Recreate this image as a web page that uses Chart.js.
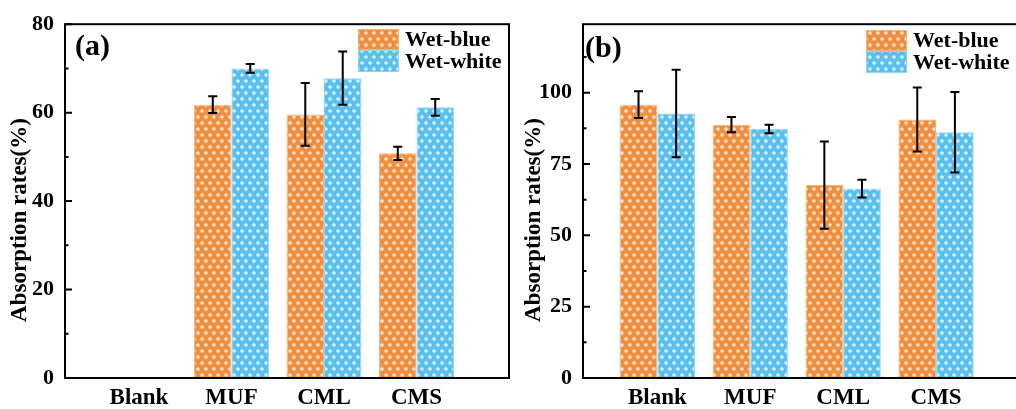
<!DOCTYPE html>
<html><head><meta charset="utf-8">
<script src="https://cdn.jsdelivr.net/npm/chart.js@4.4.1/dist/chart.umd.min.js"></script>
<style>
html,body{margin:0;padding:0;background:#fff;overflow:hidden;width:1016px;height:409px;}
canvas{position:absolute;top:0;}
#ca{left:0;} #cb{left:520px;}
</style></head><body>
<canvas id="ca" width="520" height="409"></canvas>
<canvas id="cb" width="515" height="409"></canvas>
<script>
// ---- data ----
const categories = ['Blank', 'MUF', 'CML', 'CMS'];
const seriesNames = ['Wet-blue', 'Wet-white'];
const aWetBlue = [null, 61.8, 59.6, 50.8];
const aWetBlueErr = [null, 1.9, 7.1, 1.5];
const aWetWhite = [null, 70.0, 67.8, 61.2];
const aWetWhiteErr = [null, 1.0, 6.0, 1.9];
const bWetBlue = [95.8, 88.8, 67.6, 90.6];
const bWetBlueErr = [4.7, 2.7, 15.3, 11.2];
const bWetWhite = [92.7, 87.3, 66.4, 86.1];
const bWetWhiteErr = [15.3, 1.5, 3.1, 14.1];
const aYTicks = [0, 20, 40, 60, 80];
const aYMinor = [10, 30, 50, 70];
const bYTicks = [0, 25, 50, 75, 100];
const bYMinor = [12.5, 37.5, 62.5, 87.5, 112.5];
const yTitle = 'Absorption rates(%)';

const FONT = "'Liberation Serif', 'Times New Roman', serif";
const ORANGE = 'rgb(241,142,60)';
const BLUE = 'rgb(88,191,236)';

function diamond(g, cx, cy, r) {
  g.beginPath(); g.moveTo(cx, cy - r); g.lineTo(cx + r, cy); g.lineTo(cx, cy + r); g.lineTo(cx - r, cy); g.closePath(); g.fill();
}
function makePattern(base) {
  const c = document.createElement('canvas'); c.width = 8; c.height = 12;
  const g = c.getContext('2d');
  g.fillStyle = base; g.fillRect(0, 0, 8, 12);
  g.fillStyle = 'rgba(255,255,255,0.4)';
  diamond(g, 2, 3, 2.8); diamond(g, 6, 9, 2.8);
  g.fillStyle = 'rgba(255,255,255,0.7)';
  diamond(g, 2, 3, 1.5); diamond(g, 6, 9, 1.5);
  return document.getElementById('ca').getContext('2d').createPattern(c, 'repeat');
}
const PAT_O = makePattern(ORANGE);
const PAT_B = makePattern(BLUE);

function toPoints(arr) { return arr.map((v, i) => ({ x: i + 1, y: v })); }

function makeChart(id, cfg) {
  const ctx = document.getElementById(id);
  const decor = {
    id: 'decor',
    afterDatasetsDraw(chart) {
      const c = chart.ctx, ys = chart.scales.y;
      c.save();
      c.strokeStyle = '#000'; c.lineWidth = 2;
      chart.data.datasets.forEach((ds, di) => {
        const meta = chart.getDatasetMeta(di);
        meta.data.forEach((el, i) => {
          const v = ds.data[i].y, e = cfg.errors[di][i];
          if (v == null || e == null) return;
          const x = el.x, y1 = ys.getPixelForValue(v + e), y2 = ys.getPixelForValue(v - e);
          c.beginPath();
          c.moveTo(x, y1); c.lineTo(x, y2);
          c.moveTo(x - 4.5, y1); c.lineTo(x + 4.5, y1);
          c.moveTo(x - 4.5, y2); c.lineTo(x + 4.5, y2);
          c.stroke();
        });
      });
      c.restore();
    },
    afterDraw(chart) {
      const c = chart.ctx, a = chart.chartArea, ys = chart.scales.y;
      c.save();
      // frame
      c.strokeStyle = '#000'; c.lineWidth = 2;
      c.strokeRect(a.left, a.top, a.right - a.left, a.bottom - a.top);
      // inward ticks
      c.beginPath();
      cfg.yMajor.forEach(v => { const y = ys.getPixelForValue(v); c.moveTo(a.left, y); c.lineTo(a.left + 7, y); });
      cfg.yMinor.forEach(v => { const y = ys.getPixelForValue(v); c.moveTo(a.left, y); c.lineTo(a.left + 3.5, y); });
      c.stroke();
      // y title
      c.fillStyle = '#000';
      c.font = 'bold 23px ' + FONT;
      c.textAlign = 'center'; c.textBaseline = 'middle';
      c.translate(cfg.titleX, cfg.titleY); c.rotate(-Math.PI / 2);
      c.fillText(yTitle, 0, 0);
      c.setTransform(1, 0, 0, 1, 0, 0);
      // panel label
      c.font = 'bold 30px ' + FONT;
      c.textAlign = 'left'; c.textBaseline = 'alphabetic';
      c.fillText(cfg.panel, cfg.panelX, cfg.panelY);
      // legend
      c.font = 'bold 22px ' + FONT;
      c.textBaseline = 'middle';
      const rows = [[cfg.legY, 21], [cfg.legY + 21, 22]];
      chart.data.datasets.forEach((ds, di) => {
        const [ry, rh] = rows[di];
        c.fillStyle = ds.backgroundColor;
        c.fillRect(cfg.legX, ry, 41, rh);
        c.strokeStyle = ds.borderColor; c.lineWidth = 1;
        c.strokeRect(cfg.legX + 0.5, ry + 0.5, 40, rh - 1);
        c.fillStyle = '#000';
        c.fillText(ds.label, cfg.legX + 47, ry + rh / 2 + 1);
      });
      c.restore();
    }
  };
  return new Chart(ctx, {
    type: 'bar',
    data: {
      datasets: [
        { label: seriesNames[0], data: toPoints(cfg.s1), backgroundColor: PAT_O, borderColor: 'rgba(248,178,120,1)', borderWidth: 1, categoryPercentage: 0.81, barPercentage: 1.0 },
        { label: seriesNames[1], data: toPoints(cfg.s2), backgroundColor: PAT_B, borderColor: 'rgba(140,214,246,1)', borderWidth: 1, categoryPercentage: 0.81, barPercentage: 1.0 }
      ]
    },
    options: {
      responsive: false, animation: false,
      layout: { padding: { top: cfg.padTop, right: cfg.padRight, bottom: 0, left: 0 } },
      plugins: { legend: { display: false }, tooltip: { enabled: false } },
      scales: {
        x: {
          type: 'linear', min: 0.2, max: 5.0, offset: false,
          grid: { display: false, drawTicks: false }, border: { display: false },
          afterBuildTicks: s => { s.ticks = categories.map((c, i) => ({ value: i + 1 })); },
          ticks: { padding: 6, color: '#000', font: { family: FONT, size: 23, weight: 'bold' }, autoSkip: false, maxRotation: 0,
            callback: (v, i) => categories[i] },
          afterFit: s => { s.height = 31; }
        },
        y: {
          min: 0, max: cfg.yMax,
          grid: { display: false, drawTicks: false }, border: { display: false },
          afterBuildTicks: s => { s.ticks = cfg.yMajor.concat(cfg.yMinor).sort((p, q) => p - q).map(v => ({ value: v })); },
          ticks: { padding: 11, color: '#000', font: { family: FONT, size: 22, weight: 'bold' }, autoSkip: false,
            callback: v => cfg.yMajor.includes(v) ? String(v) : '' },
          afterFit: s => { s.width = cfg.yWidth; }
        }
      }
    },
    plugins: [decor]
  });
}

makeChart('ca', {
  s1: aWetBlue, s2: aWetWhite, errors: [aWetBlueErr, aWetWhiteErr],
  yMax: 80, yMajor: aYTicks, yMinor: aYMinor,
  padTop: 19, padRight: 11, yWidth: 65,
  titleX: 20, titleY: 220, panel: '(a)', panelX: 75, panelY: 55,
  legX: 358, legY: 29
});
makeChart('cb', {
  s1: bWetBlue, s2: bWetWhite, errors: [bWetBlueErr, bWetWhiteErr],
  yMax: 124, yMajor: bYTicks, yMinor: bYMinor,
  padTop: 21, padRight: 6, yWidth: 63,
  titleX: 14, titleY: 220, panel: '(b)', panelX: 65, panelY: 57,
  legX: 346, legY: 30
});
</script>
</body></html>
